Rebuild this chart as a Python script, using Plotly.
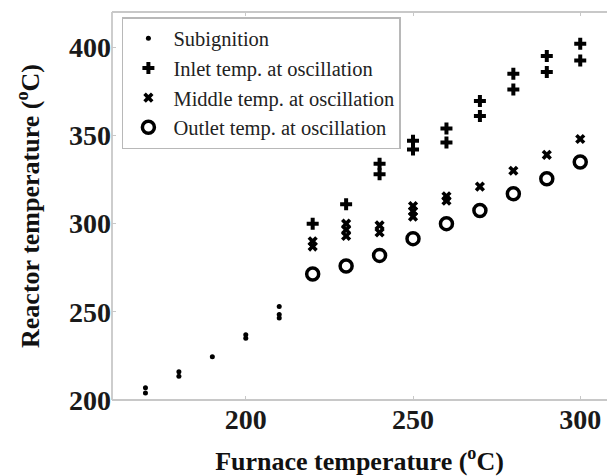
import plotly.graph_objects as go

# Subignition readings (furnace temperature, reactor temperature)
sub_furnace = [170, 170, 180, 180, 190, 200, 200, 210, 210, 210]
sub_reactor = [204, 207, 213.5, 216, 224.5, 235, 237, 246.5, 248.5, 253]

# Inlet temperature during oscillation
inlet_furnace = [220, 230, 240, 240, 250, 250, 260, 260, 270, 270, 280, 280, 290, 290, 300, 300]
inlet_reactor = [300, 311, 328, 334, 342, 347, 346, 354, 361, 369.5, 376, 385, 386, 395, 392.5, 402]

# Middle temperature during oscillation
mid_furnace = [220, 220, 230, 230, 230, 240, 240, 250, 250, 250, 260, 260, 270, 280, 290, 300]
mid_reactor = [287, 290, 293, 296.5, 300, 295, 299, 304, 307, 310, 313, 315.5, 321, 330, 339, 348]

# Outlet temperature during oscillation
out_furnace = [220, 230, 240, 250, 260, 270, 280, 290, 300]
out_reactor = [271.5, 276, 282, 291.5, 300, 307.5, 317, 325.5, 335]

x_ticks = [200, 250, 300]
y_ticks = [200, 250, 300, 350, 400]

SERIF = "Liberation Serif, Times New Roman, serif"
AXIS_GRAY = "#c8c8c8"

fig = go.Figure()
fig.add_trace(go.Scatter(
    x=sub_furnace, y=sub_reactor, mode="markers", name="Subignition",
    marker=dict(symbol="circle", size=5, color="black", line=dict(width=0)),
))
fig.add_trace(go.Scatter(
    x=inlet_furnace, y=inlet_reactor, mode="markers", name="Inlet temp. at oscillation",
    marker=dict(symbol="cross", size=10, color="black", line=dict(width=0)),
))
fig.add_trace(go.Scatter(
    x=mid_furnace, y=mid_reactor, mode="markers", name="Middle temp. at oscillation",
    marker=dict(symbol="x", size=9, color="black", line=dict(width=0)),
))
fig.add_trace(go.Scatter(
    x=out_furnace, y=out_reactor, mode="markers", name="Outlet temp. at oscillation",
    marker=dict(symbol="circle-open", size=12, color="black", line=dict(width=3.5, color="black")),
))

# Frame: bottom, top and left edges only (the right side stays open)
frame = [
    dict(x0=0, x1=1, y0=0, y1=0),
    dict(x0=0, x1=1, y0=1, y1=1),
    dict(x0=0, x1=0, y0=0, y1=1),
]
for seg in frame:
    fig.add_shape(type="line", xref="paper", yref="paper", layer="below",
                  line=dict(color=AXIS_GRAY, width=1.8), **seg)

fig.update_layout(
    template="none",
    width=607, height=476,
    margin=dict(l=112, r=0, t=12, b=76),
    paper_bgcolor="white", plot_bgcolor="white",
    font=dict(family=SERIF, color="black"),
    showlegend=True,
    legend=dict(
        x=0.02, y=0.987, xanchor="left", yanchor="top",
        bgcolor="white", bordercolor="#b8b8b8", borderwidth=1.5,
        itemwidth=40,
        font=dict(family=SERIF, size=20.5, color="#222"),
    ),
    xaxis=dict(
        range=[160, 308], tickvals=x_ticks, automargin=False,
        showgrid=False, zeroline=False, showline=False, mirror="ticks",
        ticks="inside", ticklen=4, tickcolor=AXIS_GRAY, tickwidth=1,
        tickfont=dict(family=SERIF, size=28, color="#1a1a1a", weight="bold"),
        title=dict(text="Furnace temperature (<sup>o</sup>C)",
                   font=dict(family=SERIF, size=26, color="#111", weight="bold"),
                   standoff=27),
    ),
    yaxis=dict(
        range=[200, 420], tickvals=y_ticks, automargin=False,
        showgrid=False, zeroline=False, showline=False, mirror=False,
        ticks="inside", ticklen=4, tickcolor=AXIS_GRAY, tickwidth=1,
        tickfont=dict(family=SERIF, size=28, color="#1a1a1a", weight="bold"),
        title=dict(text="Reactor temperature (<sup>o</sup>C)",
                   font=dict(family=SERIF, size=26, color="#111", weight="bold"),
                   standoff=21),
    ),
)

fig.write_html("out.html", config={"staticPlot": True})
